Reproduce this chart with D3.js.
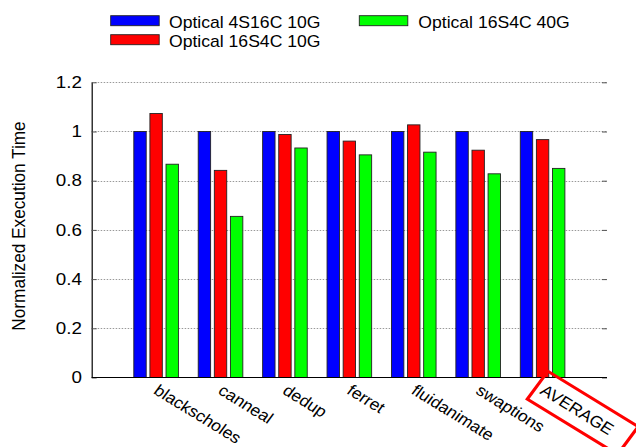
<!DOCTYPE html>
<html><head><meta charset="utf-8">
<script src="https://cdn.jsdelivr.net/npm/d3@7"></script>
<style>body{margin:0;background:#fff}svg{display:block;font-family:"Liberation Sans",Arial,sans-serif}</style>
</head><body><svg id="c" width="636" height="447"></svg>
<script>
const categories = ["blackscholes","canneal","dedup","ferret","fluidanimate","swaptions","AVERAGE"];
const seriesNames = ["Optical 4S16C 10G","Optical 16S4C 10G","Optical 16S4C 40G"];
const seriesColors = ["#0000ff","#ff0000","#00ff00"];
const optical4S16C10G = [1,1,1,1,1,1,1];
const optical16S4C10G = [1.073,0.842,0.988,0.961,1.027,0.924,0.967];
const optical16S4C40G = [0.867,0.655,0.933,0.905,0.916,0.828,0.850];
const yTicks = [0,0.2,0.4,0.6,0.8,1,1.2];
const yTickLabels = ["0","0.2","0.4","0.6","0.8","1","1.2"];
const seriesValues = [optical4S16C10G, optical16S4C10G, optical16S4C40G];

(function(){
const svg = d3.select("#c");
const K = 1.1; // horizontal stretch of text
const pLeft = 91.7, pRight = 607, pTop = 82.3, pBottom = 377.5;
const x0 = d3.scaleBand().domain(categories).range([pLeft,pRight]).paddingInner(0).paddingOuter(0.5);
const x1 = d3.scaleBand().domain(d3.range(3)).range([0,x0.bandwidth()]).paddingInner(0.23).paddingOuter(0.615);
const y = d3.scaleLinear().domain([0,1.2]).range([pBottom,pTop]);

// grid
svg.append("g").selectAll("line").data(yTicks.slice(1)).join("line")
  .attr("x1",pLeft).attr("x2",pRight).attr("y1",d=>Math.round(y(d))+0.5).attr("y2",d=>Math.round(y(d))+0.5)
  .attr("stroke","#999").attr("stroke-width",1).attr("stroke-dasharray","1.5,1.5");

// bars
const g = svg.append("g");
categories.forEach((c,i)=>{
  seriesValues.forEach((vals,s)=>{
    g.append("rect").attr("x",x0(c)+x1(s)).attr("width",x1.bandwidth())
     .attr("y",y(vals[i])).attr("height",y(0)-y(vals[i]))
     .attr("fill",seriesColors[s]).attr("stroke","#222").attr("stroke-width",0.9);
  });
});

// axes
const yAxis = d3.axisLeft(y).tickValues(yTicks).tickFormat((d,i)=>yTickLabels[i]).tickSizeInner(-5).tickSizeOuter(0).tickPadding(8.5);
const ya = svg.append("g").attr("transform",`translate(${pLeft},0)`).call(yAxis);
ya.select(".domain").attr("stroke","#000").attr("stroke-width",1.2);
ya.selectAll(".tick line").attr("stroke","#555");
ya.selectAll("text").attr("font-size",16.5).attr("fill","#000").attr("font-family","Liberation Sans, Arial, sans-serif")
  .attr("transform",`scale(${K+0.04},1)`);
const yAxisR = d3.axisRight(y).tickValues(yTicks).tickFormat("").tickSizeInner(-5).tickSizeOuter(0);
const yr = svg.append("g").attr("transform",`translate(${pRight},0)`).call(yAxisR);
yr.select(".domain").remove();
yr.selectAll(".tick line").attr("stroke","#555");

svg.append("line").attr("x1",pLeft).attr("x2",pRight).attr("y1",pBottom).attr("y2",pBottom).attr("stroke","#000").attr("stroke-width",1.2);

// x labels
const ang = 34;
const ly = 393;
const lx = -3.5;
categories.forEach(c=>{
  const cx = x0(c)+x0.bandwidth()/2 + lx;
  svg.append("text").attr("transform",`translate(${cx},${ly}) scale(${K},1) rotate(${ang})`)
    .attr("font-size",16).attr("fill","#000").text(c);
});
{
  const c = "AVERAGE";
  const cx = x0(c)+x0.bandwidth()/2 + lx;
  svg.append("rect").attr("transform",`translate(${cx},${ly}) scale(${K},1) rotate(${ang})`)
    .attr("x",-5.5).attr("y",-22.5).attr("width",99).attr("height",33.5)
    .attr("fill","none").attr("stroke","#ff0000").attr("stroke-width",3);
}

svg.append("text").attr("transform",`translate(25,226) scale(${K},1) rotate(-90)`).attr("text-anchor","middle")
  .attr("font-size",17.2).attr("fill","#000").text("Normalized Execution Time");

const legendPos = [[110.7,15.7,169,28],[110.7,34.7,169,47],[359.3,15.7,418.3,28]];
seriesNames.forEach((n,i)=>{
  const [sx,sy,tx,ty] = legendPos[i];
  svg.append("rect").attr("x",sx).attr("y",sy).attr("width",48.5).attr("height",10)
    .attr("fill",seriesColors[i]).attr("stroke","#222").attr("stroke-width",0.9);
  svg.append("text").attr("transform",`translate(${tx},${ty}) scale(${K},1)`).attr("font-size",16).attr("fill","#000").text(n);
});
})();
</script></body></html>
